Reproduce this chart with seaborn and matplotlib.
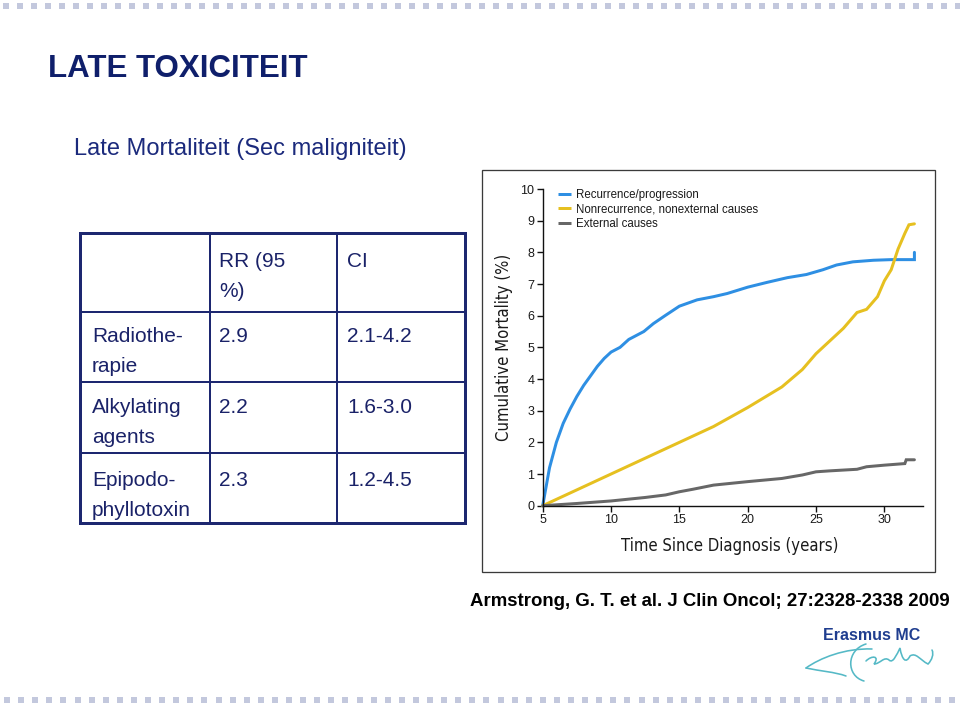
import numpy as np
import pandas as pd
import matplotlib
matplotlib.use("Agg")
import matplotlib.pyplot as plt
import seaborn as sns
from matplotlib.patches import Rectangle, PathPatch
from matplotlib.lines import Line2D
from matplotlib.path import Path

# ---------------- data ----------------
series_names = ["Recurrence/progression",
                "Nonrecurrence, nonexternal causes",
                "External causes"]
series_colors = ["#2e8fe3", "#e6c020", "#676767"]

recur_t = [5, 5.5, 6.0, 6.5, 7.0, 7.5, 8.0, 8.5, 9.0, 9.5, 10, 10.66, 11.3, 12.4,
           13.1, 13.95, 15, 16.3, 17.5, 18.5, 20, 21.4, 22.9, 24.3, 25.5, 26.5,
           27.7, 29.2, 30.5, 32.2, 32.2]
recur_m = [0, 1.2, 2.0, 2.6, 3.05, 3.45, 3.8, 4.1, 4.4, 4.65, 4.85, 5.0, 5.25, 5.5,
           5.75, 6.0, 6.3, 6.5, 6.6, 6.7, 6.9, 7.05, 7.2, 7.3, 7.45, 7.6,
           7.7, 7.75, 7.77, 7.77, 8.0]

nonrec_t = [5, 7.5, 10, 12.5, 15, 17.5, 20, 22.5, 24, 25, 26, 27, 28, 28.7,
            29.5, 30, 30.5, 31, 31.5, 31.8, 32.2]
nonrec_m = [0, 0.5, 1.0, 1.5, 2.0, 2.5, 3.1, 3.75, 4.3, 4.8, 5.2, 5.6, 6.1, 6.2,
            6.6, 7.1, 7.45, 8.1, 8.6, 8.87, 8.9]

ext_t = [5, 7.5, 10, 12.5, 14, 15, 16, 17.5, 20, 22.5, 24, 25, 26, 28, 28.7,
         30, 31.5, 31.6, 32.2]
ext_m = [0, 0.07, 0.15, 0.26, 0.34, 0.44, 0.52, 0.65, 0.76, 0.86, 0.97, 1.07,
         1.1, 1.15, 1.23, 1.28, 1.33, 1.45, 1.45]

x_ticks = [5, 10, 15, 20, 25, 30]
y_ticks = [0, 1, 2, 3, 4, 5, 6, 7, 8, 9, 10]

table_header = ["", "RR (95\n%)", "CI"]
row_labels = ["Radiothe-\nrapie", "Alkylating\nagents", "Epipodo-\nphyllotoxin"]
rr_values = ["2.9", "2.2", "2.3"]
ci_values = ["2.1-4.2", "1.6-3.0", "1.2-4.5"]

title_text = "LATE TOXICITEIT"
subtitle_text = "Late Mortaliteit (Sec maligniteit)"
citation_text = "Armstrong, G. T. et al. J Clin Oncol; 27:2328-2338 2009"

# ---------------- figure ----------------
sns.set_theme(style="ticks")
plt.rcParams["font.family"] = ["Liberation Sans", "DejaVu Sans"]

W, H = 960, 707
fig = plt.figure(figsize=(9.6, 7.07), dpi=100)
fig.patch.set_facecolor("white")

bg = fig.add_axes([0, 0, 1, 1])
bg.set_xlim(0, W)
bg.set_ylim(H, 0)
bg.axis("off")

PX = 0.72  # points per pixel

# decorative squares
sq_col = "#c3c8dd"
for i in range(69):
    bg.add_patch(Rectangle((2.7 + 14.0 * i, 3), 6, 6, color=sq_col, lw=0))
for i in range(68):
    bg.add_patch(Rectangle((4 + 14.1 * i, 696.5), 6, 6, color=sq_col, lw=0))

navy = "#0f1f6b"
bg.text(48, 77, title_text, fontsize=22.5, fontweight="bold", color=navy,
        va="baseline", ha="left")
bg.text(74, 155, subtitle_text, fontsize=17, color="#1b2a7c",
        va="baseline", ha="left")

# table
tcol = "#1d2770"
xe = [80, 210, 337, 465]
ye = [233, 312, 382, 453, 523]
bg.add_patch(Rectangle((xe[0], ye[0]), xe[-1] - xe[0], ye[-1] - ye[0],
                       fill=False, ec=tcol, lw=3 * PX))
for xv in xe[1:-1]:
    bg.plot([xv, xv], [ye[0], ye[-1]], color=tcol, lw=2 * PX)
for yv in ye[1:-1]:
    bg.plot([xe[0], xe[-1]], [yv, yv], color=tcol, lw=2 * PX)

rows = [table_header] + [[row_labels[i], rr_values[i], ci_values[i]] for i in range(3)]
first_off = [34, 30, 31, 33]
text_x = [92, 219, 347]
for r, row in enumerate(rows):
    for c, cell in enumerate(row):
        for k, line in enumerate(cell.split("\n")):
            bg.text(text_x[c], ye[r] + first_off[r] + 30 * k, line, fontsize=15,
                    color="#1a2268", va="baseline", ha="left")

# chart box
bg.add_patch(Rectangle((482, 170), 453, 402, fill=False, ec="#3a3a3a", lw=1.3 * PX))

# citation
bg.text(470, 606, citation_text, fontsize=13.4, fontweight="bold", color="black",
        va="baseline", ha="left")

# logo
bg.text(823, 640, "Erasmus MC", fontsize=11.5, fontweight="bold", color="#1f3d8f",
        va="baseline", ha="left")
teal = "#55b9c6"
def curve(pts, lw=1.6):
    codes = [Path.MOVETO] + [Path.CURVE4] * (len(pts) - 1)
    bg.add_patch(PathPatch(Path(pts, codes), fill=False, ec=teal, lw=lw * PX,
                           capstyle="round"))
curve([(872, 649), (845, 648), (820, 658), (806, 668)])
curve([(806, 668), (820, 671), (835, 672), (846, 676)])
curve([(866, 644), (846, 650), (846, 676), (864, 681)])
curve([(866, 661), (872, 655), (880, 656), (874, 664),
       (880, 664), (884, 656), (889, 660), (893, 664),
       (897, 654), (900, 648), (902, 660), (906, 664),
       (910, 656), (916, 652), (920, 660), (928, 664),
       (932, 660), (934, 654), (932, 650)])

# ---------------- chart ----------------
x0, x1 = 542.7, 923.3
y0, y1 = 505.7, 189.0
ax = fig.add_axes([x0 / W, 1 - y0 / H, (x1 - x0) / W, (y0 - y1) / H])
ax.set_facecolor("none")

df = pd.concat([
    pd.DataFrame({"t": recur_t, "m": recur_m, "cause": series_names[0]}),
    pd.DataFrame({"t": nonrec_t, "m": nonrec_m, "cause": series_names[1]}),
    pd.DataFrame({"t": ext_t, "m": ext_m, "cause": series_names[2]}),
], ignore_index=True)

sns.lineplot(data=df, x="t", y="m", hue="cause", hue_order=series_names,
             palette=series_colors, sort=False, estimator=None, lw=3 * PX,
             ax=ax, legend=False)
for ln in ax.lines:
    ln.set_clip_on(False)
    ln.set_solid_joinstyle("miter")

ax.set_xlim(5, 32.85)
ax.set_ylim(0, 10)
ax.set_xticks(x_ticks)
ax.set_yticks(y_ticks)
sns.despine(ax=ax)
for s in ["left", "bottom"]:
    ax.spines[s].set_color("#111111")
    ax.spines[s].set_linewidth(1.4 * PX)
ax.tick_params(axis="both", direction="out", length=4.5, width=1.4 * PX,
               color="#111111", labelsize=9, labelcolor="#1a1a1a", pad=1.5,
               bottom=True, left=True)

cond = dict(family=["DejaVu Sans"], fontstretch="condensed")
ax.set_xlabel("Time Since Diagnosis (years)", fontsize=12, color="#1a1a1a", **cond)
ax.set_ylabel("Cumulative Mortality (%)", fontsize=12, color="#1a1a1a", **cond)
ax.xaxis.set_label_coords((730 - x0) / (x1 - x0), -(537 - y0) / (y0 - y1))
ax.yaxis.set_label_coords(-(x0 - 513) / (x1 - x0), 0.5)

handles = [Line2D([], [], color=c, lw=3 * PX, solid_capstyle="butt") for c in series_colors]
ax.legend(handles, series_names, loc="upper left", bbox_to_anchor=(0.04, 1.0),
          frameon=False, fontsize=8.3, handlelength=1.1, handletextpad=0.45,
          labelspacing=0.2, borderpad=0, borderaxespad=0, labelcolor="#1a1a1a")

fig.savefig("out.png", dpi=100, facecolor="white")
